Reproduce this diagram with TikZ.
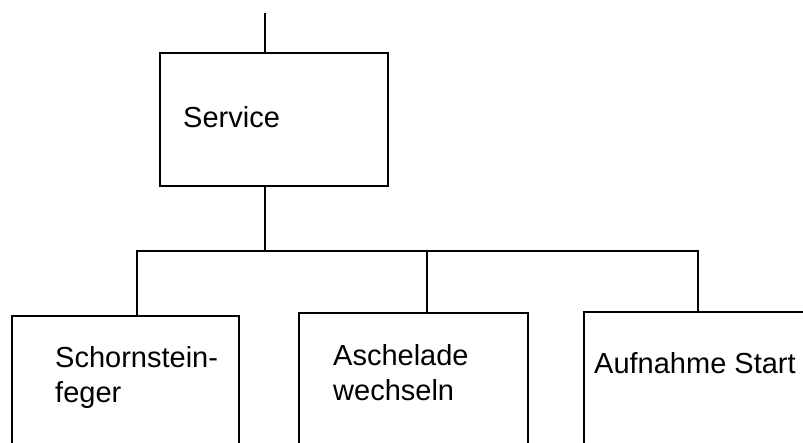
\documentclass[tikz,border=0pt]{standalone}
\usepackage{fontspec}
\setmainfont{Liberation Sans}
\begin{document}
\begin{tikzpicture}[x=1pt,y=-1pt,
  boxstyle/.style={draw=black,line width=2.2pt,rectangle,inner sep=0pt,anchor=north west},
  wire/.style={draw=black,line width=2.2pt},
  lbl/.style={anchor=base west,inner sep=0pt,align=left,font=\fontsize{29}{34.5}\selectfont}]
\useasboundingbox (0,0) rectangle (803,442);
\clip (0,0) rectangle (803,442);
% boxes
\node[boxstyle,minimum width=228pt,minimum height=133pt] (service) at (159,52) {};
\node[boxstyle,minimum width=227pt,minimum height=200pt] (b1) at (11,315) {};
\node[boxstyle,minimum width=229pt,minimum height=200pt] (b2) at (298,312) {};
\node[boxstyle,minimum width=260pt,minimum height=200pt] (b3) at (583,311) {};
% labels (base anchor of a multi-line node is its last line)
\node[lbl] (tservice) at (183,127) {Service};
\node[lbl] (t1) at (55,402) {Schornstein-\\feger};
\node[lbl] (t2) at (333,400) {Aschelade\\wechseln};
\node[lbl] (t3) at (594,373) {Aufnahme Start};
% connectors
\coordinate (top) at (265,13);
\coordinate (bus) at (265,251);
\coordinate (busl) at (137,251);
\coordinate (busm) at (427,251);
\coordinate (busr) at (698,251);
\draw[wire] (top) -- (top |- service.north);
\draw[wire] (bus |- service.south) -- (bus);
\draw[wire,line cap=rect] (busl) -- (busr);
\draw[wire] (busl) -- (busl |- b1.north);
\draw[wire] (busm) -- (busm |- b2.north);
\draw[wire] (busr) -- (busr |- b3.north);
\end{tikzpicture}
\end{document}
